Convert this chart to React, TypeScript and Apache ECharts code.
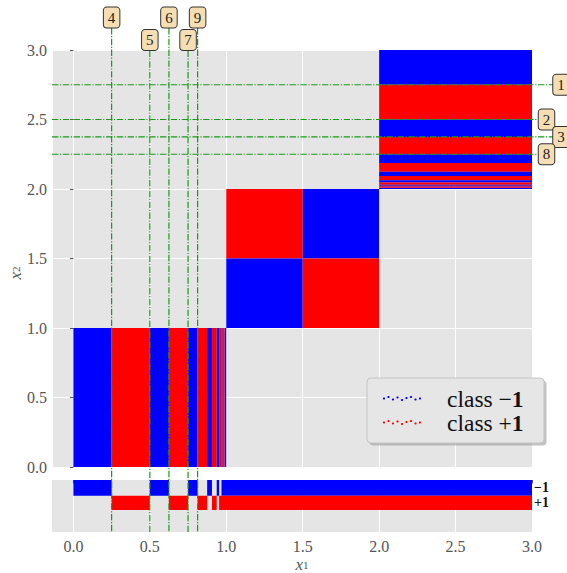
import React, { useEffect, useRef } from 'react';
import * as echarts from 'echarts';

// ---- tick labels ----
const xTicks = [0, 0.5, 1, 1.5, 2, 2.5, 3];
const yTicks = [0, 0.5, 1, 1.5, 2, 2.5, 3];
const stripLabels = ['\u22121', '+1'];
const stripRowCenters = [0.515, 1.495];

// ---- region A: vertical stripes along x1, x2 in [0,1] ----
const stripesAEdges = [0, 0.25, 0.5, 0.625, 0.75, 0.8125, 0.875, 0.90625, 0.9375, 0.953125, 0.96875, 0.9765625, 0.984375, 0.98828125, 0.9921875, 1];
const stripesAClass = [-1, 1, -1, 1, -1, 1, -1, 1, -1, 1, -1, 1, -1, 1, -1];

// ---- region B: checkerboard, [x1from, x1to, x2from, x2to, class] ----
const checkerCells = [
  [1, 1.5, 1.5, 2, 1],
  [1.5, 2, 1.5, 2, -1],
  [1, 1.5, 1, 1.5, -1],
  [1.5, 2, 1, 1.5, 1],
];

// ---- region C: horizontal stripes along x2 (top to bottom), x1 in [2,3] ----
const stripesCEdges = [3, 2.75, 2.5, 2.375, 2.25, 2.1875, 2.125, 2.09375, 2.0625, 2.046875, 2.03125, 2.0234375, 2.015625, 2.01171875, 2.0078125, 2];
const stripesCClass = [-1, 1, -1, 1, -1, 1, -1, 1, -1, 1, -1, 1, -1, 1, -1];

// ---- projection strip onto x1 ----
const projMinus = [[0, 0.25], [0.5, 0.625], [0.75, 0.8125], [0.875, 0.90625], [0.9375, 0.953125], [0.96875, 3]];
const projPlus = [[0.25, 0.5], [0.625, 0.75], [0.8125, 0.875], [0.90625, 0.9375], [0.953125, 3]];

// ---- splits ----
const splitIds = [1, 2, 3, 4, 5, 6, 7, 8, 9];
const splitAxis = ['x2', 'x2', 'x2', 'x1', 'x1', 'x1', 'x1', 'x2', 'x1'];
const splitValue = [2.75, 2.5, 2.375, 0.25, 0.5, 0.625, 0.75, 2.25, 0.8125];

const BLUE = '#0000ff';
const RED = '#ff0000';
const GREEN = '#1a9a1a';
const FONT = "'Liberation Serif', serif";
const DASHDOT = [6.4, 1.6, 1.2, 1.6];

export default function App() {
  const ref = useRef<HTMLDivElement>(null);
  useEffect(() => {
    if (!ref.current) return;
    const chart = echarts.init(ref.current, undefined, { renderer: 'svg' });

    const cells: number[][] = [];
    for (let i = 0; i < stripesAClass.length; i++) {
      cells.push([stripesAEdges[i], stripesAEdges[i + 1], 0, 1, stripesAClass[i]]);
    }
    checkerCells.forEach((c) => cells.push(c));
    for (let i = 0; i < stripesCClass.length; i++) {
      cells.push([2, 3, stripesCEdges[i + 1], stripesCEdges[i], stripesCClass[i]]);
    }
    const stripData: number[][] = [];
    projMinus.forEach((s) => stripData.push([s[0], s[1], 0, 1.03, -1]));
    projPlus.forEach((s) => stripData.push([s[0], s[1], 1.03, 1.96, 1]));

    const rectRender = (params: any, api: any) => {
      const a = api.coord([api.value(0), api.value(2)]);
      const b = api.coord([api.value(1), api.value(3)]);
      return {
        type: 'rect',
        shape: {
          x: Math.min(a[0], b[0]),
          y: Math.min(a[1], b[1]),
          width: Math.abs(b[0] - a[0]),
          height: Math.abs(b[1] - a[1]),
        },
        style: { fill: api.value(4) < 0 ? BLUE : RED },
      };
    };

    const labelStyle = { color: '#555', fontFamily: FONT, fontSize: 16 };

    chart.setOption({
      animation: false,
      grid: [
        { left: 52, top: 50, width: 480, height: 417, show: true, backgroundColor: '#e5e5e5', borderWidth: 0 },
        { left: 52, top: 480, width: 480, height: 52, show: true, backgroundColor: '#e5e5e5', borderWidth: 0 },
      ],
      xAxis: [
        {
          gridIndex: 0, type: 'value', min: -0.14, max: 3,
          axisLine: { show: false }, axisTick: { show: false }, axisLabel: { show: false },
          splitLine: { show: true, lineStyle: { color: '#ffffff', width: 1 } },
        },
        {
          gridIndex: 1, type: 'value', min: -0.14, max: 3,
          axisLine: { show: false },
          axisTick: { show: true, length: 3.5, lineStyle: { color: '#555' }, customValues: xTicks },
          axisLabel: { ...labelStyle, margin: 6, customValues: xTicks, formatter: (v: number) => v.toFixed(1) },
          splitLine: { show: true, lineStyle: { color: '#ffffff', width: 1 } },
        },
      ],
      yAxis: [
        {
          gridIndex: 0, type: 'value', min: 0, max: 3, interval: 0.5,
          axisLine: { show: false },
          axisTick: { show: true, length: 3.5, lineStyle: { color: '#555' }, customValues: yTicks },
          axisLabel: { ...labelStyle, margin: 5, customValues: yTicks, formatter: (v: number) => v.toFixed(1) },
          splitLine: { show: true, lineStyle: { color: '#ffffff', width: 1 } },
        },
        {
          gridIndex: 1, type: 'value', min: 0, max: 3.4, inverse: true,
          axisLine: { show: false }, axisTick: { show: false }, splitLine: { show: false },
          axisLabel: { show: false },
        },
      ],
      series: [
        {
          type: 'custom', xAxisIndex: 0, yAxisIndex: 0, renderItem: rectRender,
          encode: { x: [0, 1], y: [2, 3] }, data: cells, silent: true,
        },
        {
          type: 'custom', xAxisIndex: 1, yAxisIndex: 1, renderItem: rectRender,
          encode: { x: [0, 1], y: [2, 3] }, data: stripData, silent: true,
        },
      ],
    });

    const gx = (v: number) => chart.convertToPixel({ xAxisIndex: 0 }, v) as number;
    const gy = (v: number) => chart.convertToPixel({ yAxisIndex: 0 }, v) as number;
    const sy = (v: number) => chart.convertToPixel({ yAxisIndex: 1 }, v) as number;
    const stripBottom = sy(3.4);
    const plotLeft = gx(-0.14);
    const plotRight = gx(3);

    const graphics: any[] = [];

    // strip row labels
    stripLabels.forEach((t, i) => {
      graphics.push({
        type: 'text', z: 50, x: plotRight + 2, y: sy(stripRowCenters[i]),
        style: { text: t, fontFamily: FONT, fontSize: 14, fontWeight: 'bold', fill: '#111', align: 'left', verticalAlign: 'middle', lineHeight: 13 },
      });
    });

    let vCount = 0;
    let hCount = 0;
    splitIds.forEach((id, i) => {
      const boxStyle = {
        text: String(id), fontFamily: FONT, fontSize: 15, fill: '#222',
        backgroundColor: '#f5deb3', borderColor: '#333', borderWidth: 1, borderRadius: 3,
        padding: [3, 4, 2, 4], align: 'center', verticalAlign: 'middle',
      };
      if (splitAxis[i] === 'x1') {
        const px = gx(splitValue[i]);
        const low = vCount % 2 === 1;
        vCount++;
        const cy = low ? 40 : 17.5;
        graphics.push({
          type: 'line', z: 100, silent: true,
          shape: { x1: px, y1: cy + 10.5, x2: px, y2: stripBottom },
          style: { stroke: GREEN, lineWidth: 1.2, lineDash: DASHDOT },
        });
        graphics.push({ type: 'text', z: 102, x: px, y: cy, style: boxStyle });
      } else {
        const py = gy(splitValue[i]);
        const far = hCount % 2 === 0;
        hCount++;
        const cx = far ? 561 : 546.5;
        graphics.push({
          type: 'line', z: 100, silent: true,
          shape: { x1: plotLeft, y1: py, x2: cx - 7.5, y2: py },
          style: { stroke: GREEN, lineWidth: 1.2, lineDash: DASHDOT },
        });
        graphics.push({ type: 'text', z: 102, x: cx, y: py, style: boxStyle });
      }
    });

    // legend
    const lx = 367, ly = 378, lw = 177, lh = 65;
    graphics.push({ type: 'rect', z: 110, shape: { x: lx + 2.5, y: ly + 2.5, width: lw, height: lh, r: 4 }, style: { fill: '#999', opacity: 0.6 } });
    graphics.push({ type: 'rect', z: 111, shape: { x: lx, y: ly, width: lw, height: lh, r: 4 }, style: { fill: '#e6e6e6', stroke: '#c4c4c4', lineWidth: 1 } });
    const jitter = [0, -1.5, 1, -1, 1.5, -0.5, -1.5, 1, 0];
    [{ c: BLUE, y: 398.5, s: '\u2212' }, { c: RED, y: 422.5, s: '+' }].forEach((row) => {
      jitter.forEach((j, k) => {
        graphics.push({ type: 'circle', z: 112, shape: { cx: 384 + k * 4.5, cy: row.y + j, r: 1.1 }, style: { fill: row.c } });
      });
      graphics.push({
        type: 'text', z: 112, x: 447, y: row.y,
        style: {
          text: '{n|class ' + row.s + '}{b|1}', verticalAlign: 'middle', align: 'left',
          rich: {
            n: { fontFamily: FONT, fontSize: 23.5, fill: '#111', lineHeight: 20 },
            b: { fontFamily: FONT, fontSize: 23.5, fontWeight: 'bold', fill: '#111', lineHeight: 20 },
          },
        },
      });
    });

    // axis titles
    const titleRich = {
      a: { fontFamily: FONT, fontSize: 17, fontStyle: 'italic', fill: '#555', lineHeight: 14, verticalAlign: 'top' },
      b: { fontFamily: FONT, fontSize: 11, fill: '#555', lineHeight: 10, verticalAlign: 'bottom', padding: [6, 0, 0, 0] },
    };
    graphics.push({ type: 'text', z: 50, x: 302, y: 563, style: { text: '{a|x}{b|1}', align: 'center', verticalAlign: 'middle', rich: titleRich } });
    graphics.push({ type: 'text', z: 50, x: 14, y: 273, rotation: Math.PI / 2, style: { text: '{a|x}{b|2}', align: 'center', verticalAlign: 'middle', rich: titleRich } });

    chart.setOption({ graphic: graphics });

    return () => chart.dispose();
  }, []);
  return <div ref={ref} style={{ position: 'absolute', left: 0, top: 0, width: 567, height: 573 }} />;
}
